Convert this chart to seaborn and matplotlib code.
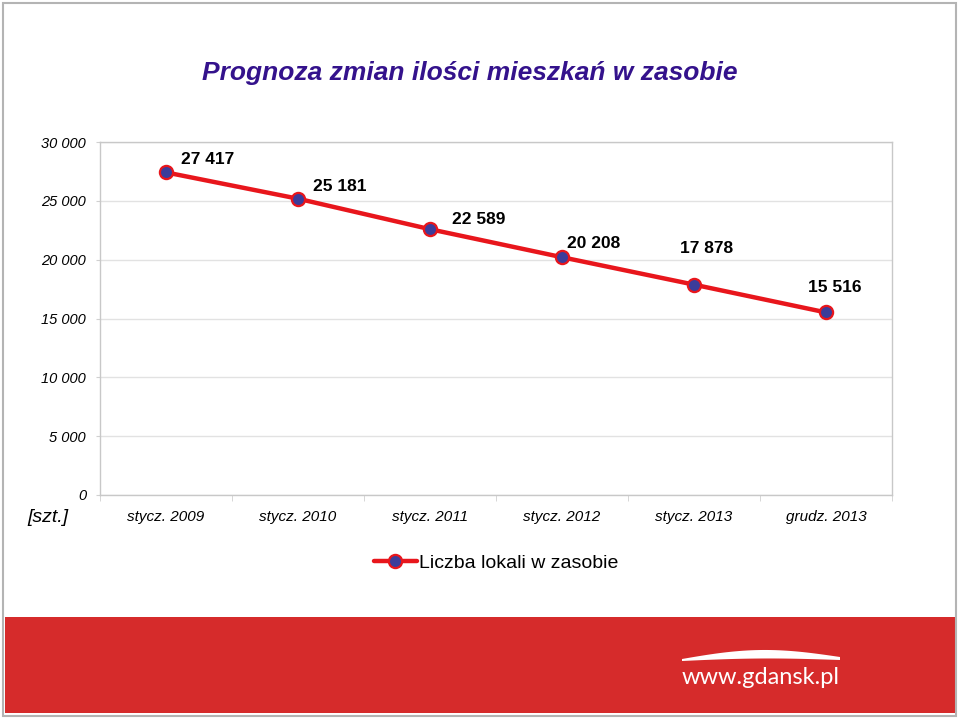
import matplotlib
matplotlib.use("Agg")
import matplotlib.pyplot as plt
from matplotlib.patches import Rectangle, Polygon
from matplotlib.ticker import FuncFormatter, FixedLocator
import numpy as np
import pandas as pd
import seaborn as sns

# data
months = ['stycz. 2009', 'stycz. 2010', 'stycz. 2011', 'stycz. 2012', 'stycz. 2013', 'grudz. 2013']
flats = [27417, 25181, 22589, 20208, 17878, 15516]
series_name = 'Liczba lokali w zasobie'
title = 'Prognoza zmian ilości mieszkań w zasobie'

# label offsets in points (hand placed, like in the original)
label_offsets = [(30, 9), (30, 9), (35, 7), (23, 10), (9, 26), (6, 18)]

sns.set_style("white")
plt.rcParams['font.family'] = ['Liberation Sans', 'DejaVu Sans']
plt.rcParams['text.color'] = 'black'

red = '#e8161c'
marker_fill = '#3c3c9a'

fig = plt.figure(figsize=(9.6, 7.18), dpi=100)
ax = fig.add_axes([100/960, 1-495/718, 792/960, 353/718])

df = pd.DataFrame({'month': months, 'value': flats})
sns.lineplot(data=df, x='month', y='value', ax=ax, color=red, linewidth=3.2,
             marker='o', markersize=9.5, markerfacecolor=marker_fill,
             markeredgecolor=red, markeredgewidth=1.6, label=series_name, sort=False)

for i, (v, off) in enumerate(zip(flats, label_offsets)):
    ax.annotate(f'{v:,}'.replace(',', ' '), xy=(i, v), xytext=off, textcoords='offset points',
                ha='center', va='center', fontsize=12.5, fontweight='bold', color='black')

ax.set_xlim(-0.5, len(months) - 0.5)
ax.set_ylim(0, 30000)
ax.set_yticks(range(0, 30001, 5000))
ax.yaxis.set_major_formatter(FuncFormatter(lambda v, p: f'{int(v):,}'.replace(',', ' ')))
ax.grid(axis='y', color='#e2e2e2', linewidth=1)
ax.xaxis.set_minor_locator(FixedLocator(np.arange(-0.5, len(months), 1)))
ax.tick_params(axis='x', which='major', length=0, pad=11, labelsize=11, labelcolor='black')
ax.tick_params(axis='x', which='minor', length=4, color='#d0d0d0', direction='out', bottom=True)
ax.tick_params(axis='y', length=3, color='#d0d0d0', left=True, pad=7, labelsize=10.5,
               labelcolor='black')
for lab in ax.get_xticklabels() + ax.get_yticklabels():
    lab.set_fontstyle('italic')
for s in ax.spines.values():
    s.set_color('#c8c8c8')
    s.set_linewidth(1)
ax.set_xlabel('')
ax.set_ylabel('')

leg = ax.legend(loc='center', bbox_to_anchor=(0.5, -0.193), frameon=False,
                fontsize=14, handlelength=2.2, handletextpad=0.1)
for txt in leg.get_texts():
    txt.set_color('black')

fig.text(48/960, 1-517/718, '[szt.]', ha='center', va='center', fontsize=14, fontstyle='italic')
fig.text(470/960, 1-73/718, title, ha='center', va='center', fontsize=19,
         fontweight='bold', fontstyle='italic', color='#34128c')

# footer band
fig.patches.append(Rectangle((5/960, 1-713/718), 950/960, 96/718, transform=fig.transFigure,
                             facecolor='#d62b2b', edgecolor='none', zorder=0))
# swoosh
t = np.linspace(0, 1, 40)
sx = 682 + 158 * t
top = 659 - 8 * np.sin(np.pi * t) - 2 * t
bot = 661 - 2 * np.sin(np.pi * t) - 1 * t
pts = [(x/960, 1-y/718) for x, y in zip(sx, top)] + [(x/960, 1-y/718) for x, y in zip(sx[::-1], bot[::-1])]
fig.patches.append(Polygon(pts, closed=True, transform=fig.transFigure, facecolor='white', edgecolor='none'))
fig.text(761/960, 1-677/718, 'www.gdansk.pl', ha='center', va='center', fontsize=17,
         color='white', family=['Lato', 'DejaVu Sans'])

# outer frame
fig.patches.append(Rectangle((3/960, 2/718), 953/960, 713/718, transform=fig.transFigure,
                             facecolor='none', edgecolor='#b4b4b4', linewidth=1.5))

fig.savefig('out.png', dpi=100)
